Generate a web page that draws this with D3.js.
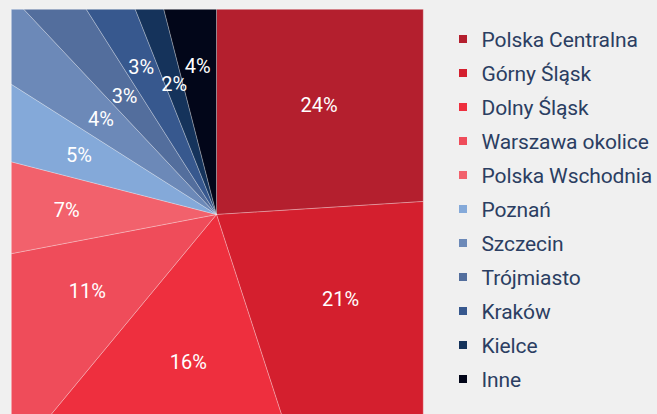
<!DOCTYPE html>
<html>
<head>
<meta charset="utf-8">
<script src="https://cdn.jsdelivr.net/npm/d3@7"></script>
<style>
  html, body { margin: 0; padding: 0; background: #f0f0f0; }
  svg { display: block; }
</style>
</head>
<body>
<div id="chart-area"></div>
<script>
// data
var regions = ["Polska Centralna", "Górny Śląsk", "Dolny Śląsk", "Warszawa okolice",
    "Polska Wschodnia", "Poznań", "Szczecin", "Trójmiasto", "Kraków", "Kielce", "Inne"];
var shares = [24, 21, 16, 11, 7, 5, 4, 3, 3, 2, 4];
var colors = ["#b41f2e", "#d41f2e", "#ee2f3e", "#ef4c5a", "#f2616c", "#84a9d9",
    "#6c89b8", "#536e9d", "#37588e", "#15335b", "#020619"];

var width = 657, height = 414;
var cx = 216.5, cy = 214.5;
var plot = { left: 11.3, top: 9.3, right: 423.3, bottom: 430 };

var svg = d3.select("#chart-area")
    .append("svg")
    .attr("width", width)
    .attr("height", height);

svg.append("clipPath")
    .attr("id", "plotclip")
    .append("rect")
    .attr("x", plot.left)
    .attr("y", plot.top)
    .attr("width", plot.right - plot.left)
    .attr("height", plot.bottom - plot.top);

var data = regions.map(function(r, i) { return { name: r, value: shares[i], color: colors[i] }; });

var pie = d3.pie()
    .sort(null)
    .value(function(d) { return d.value; });

var arc = d3.arc().innerRadius(0).outerRadius(600);

var g = svg.append("g")
    .attr("clip-path", "url(#plotclip)")
    .append("g")
    .attr("transform", "translate(" + cx + "," + cy + ")");

var arcs = pie(data);

g.selectAll("path.slice")
    .data(arcs)
    .enter().append("path")
    .attr("class", "slice")
    .attr("d", arc)
    .attr("fill", function(d) { return d.data.color; })
    .attr("stroke", "rgba(255,255,255,0.35)")
    .attr("stroke-width", 0.8);

// thin outline of the plot box
svg.append("rect")
    .attr("x", plot.left)
    .attr("y", plot.top)
    .attr("width", plot.right - plot.left)
    .attr("height", plot.bottom - plot.top)
    .attr("fill", "none")
    .attr("stroke", "rgba(255,255,255,0.35)")
    .attr("stroke-width", 1);

// percent labels: place at the arc centroid, nudge radially when they collide
var tryRadii = [150, 166, 137, 182, 124];
var placed = [];
function overlaps(a, b) {
    return Math.abs(a.x - b.x) < (a.w + b.w) / 2 && Math.abs(a.y - b.y) < (a.h + b.h) / 2;
}
arcs.forEach(function(d) {
    var txt = d.data.value + "%";
    var w = txt.length * 15, h = 16;
    var box;
    for (var k = 0; k < tryRadii.length; k++) {
        var c = d3.arc().innerRadius(tryRadii[k]).outerRadius(tryRadii[k]).centroid(d);
        box = { x: c[0], y: c[1], w: w, h: h };
        if (!placed.some(function(p) { return overlaps(p, box); })) break;
    }
    placed.push(box);
    d.lx = box.x;
    d.ly = box.y;
});

g.selectAll("text.pct")
    .data(arcs)
    .enter().append("text")
    .attr("class", "pct")
    .attr("x", function(d) { return d.lx; })
    .attr("y", function(d) { return d.ly; })
    .attr("text-anchor", "middle")
    .attr("dominant-baseline", "central")
    .attr("font-family", "Roboto, sans-serif")
    .attr("font-size", "20px")
    .attr("fill", "#ffffff")
    .text(function(d) { return d.data.value + "%"; });

// legend
var legend = svg.append("g")
    .attr("transform", "translate(463, 39)");

var rowH = 34;
var items = legend.selectAll("g.item")
    .data(data)
    .enter().append("g")
    .attr("class", "item")
    .attr("transform", function(d, i) { return "translate(0," + (i * rowH) + ")"; });

items.append("rect")
    .attr("x", -4)
    .attr("y", -4)
    .attr("width", 8)
    .attr("height", 8)
    .attr("fill", function(d) { return d.color; });

items.append("text")
    .attr("x", 18.5)
    .attr("y", 7.5)
    .attr("font-family", "Roboto, sans-serif")
    .attr("font-size", "21px")
    .attr("letter-spacing", "-0.1px")
    .attr("fill", "#2b3e62")
    .text(function(d) { return d.name; });
</script>
</body>
</html>
